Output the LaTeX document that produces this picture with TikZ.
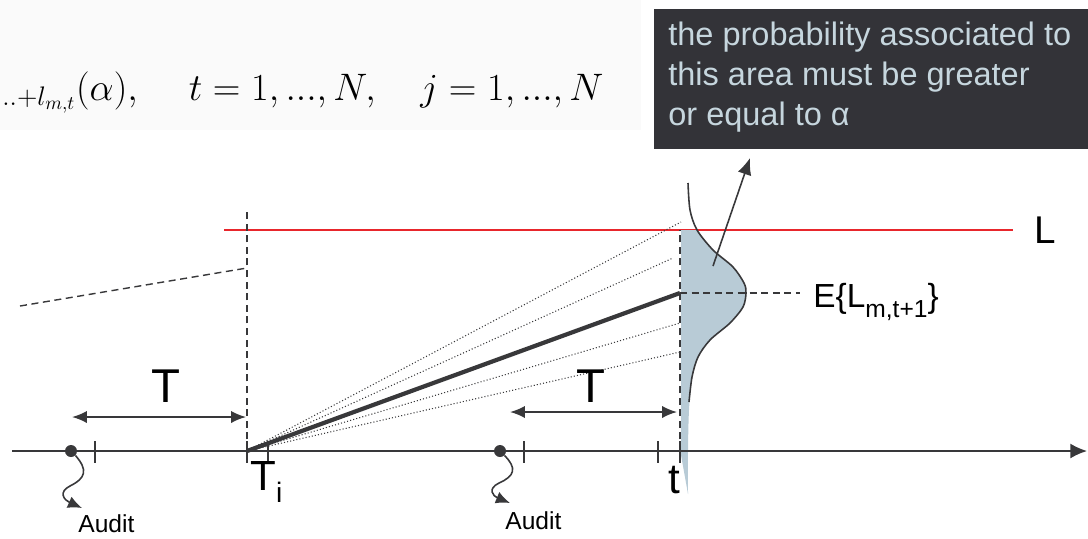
\RequirePackage{fix-cm}
\documentclass[tikz,border=0pt]{standalone}
\usepackage{fontspec}
\setmainfont{Liberation Sans}
\usetikzlibrary{arrows.meta}
\definecolor{ink}{HTML}{38383A}
\definecolor{redl}{HTML}{E8262C}
\definecolor{shadec}{HTML}{B8CBD6}
\definecolor{boxbg}{HTML}{333338}
\definecolor{boxtxt}{HTML}{C6D6DE}
\definecolor{fbg}{HTML}{FAFAFA}
\newcommand\setfs[2]{\fontsize{#1}{#2}\selectfont}
\tikzset{
  axisline/.style={draw=ink, line width=0.9pt, -{Latex[length=9.5pt,width=8.5pt]}},
  tickline/.style={draw=ink, line width=0.9pt},
  guide/.style={draw=ink, line width=0.8pt, dash pattern=on 4pt off 2.6pt},
  fan/.style={draw=ink, line width=0.6pt, dash pattern=on 0.6pt off 1.2pt},
  dimarrow/.style={draw=ink, line width=1pt, {Latex[length=8.5pt,width=7pt]}-{Latex[length=8.5pt,width=7pt]}},
  ptr/.style={draw=ink, line width=0.9pt, -{Latex[length=9.5pt,width=8pt]}},
  wavy/.style={draw=ink, line width=0.9pt, -{Latex[length=8pt,width=7pt]}},
  lbl/.style={inner sep=0pt, text=black},
  dotnode/.style={circle, fill=ink, inner sep=0pt, minimum size=0.24cm},
}
\begin{document}
\begin{tikzpicture}[x=0.02cm,y=-0.02cm]
\useasboundingbox (0,0) rectangle (1088,538);
% formula strip
\fill[fbg] (0,0) rectangle (641,130);
\node[lbl, anchor=base east] (formula) at (604,100)
  {\setfs{21.8}{26}$\vphantom{L}_{...+l_{m,t}}(\alpha),\quad\, t=1,...,N,\quad j=1,...,N$};
% dark box
\node[fill=boxbg, anchor=north west, minimum width=8.68cm, minimum height=2.8cm, inner sep=0pt] (box) at (654,9) {};
\node[lbl, anchor=north west, text=boxtxt, align=left, font={\setfs{18.5}{22.7}}] (boxtext) at (668,22)
  {the probability associated to\\this area must be greater\\or equal to α};
% limit line
\coordinate (r0) at (224,230);
\coordinate (r1) at (1013,230);
\draw[redl, line width=1.1pt] (r0) -- (r1);
\node[lbl, anchor=base west] (Llab) at (1034,243) {\setfs{22}{26}L};
% distribution
\fill[shadec] (681,230) -- plot[smooth] coordinates {(697,230) (713,250) (733,267) (744,283) (746,293) (743,307) (730,323) (710,340) (698,357) (692,377) (689,410) (688,450) (688,494)} -- (681,455) -- cycle;
\draw[ink, line width=0.9pt] plot[smooth] coordinates {(688,183) (690,210) (697,230) (713,250) (733,267) (744,283) (746,293) (743,307) (730,323) (710,340) (698,357) (692,377) (689,402)};
\coordinate (pstart) at (713,266);
\coordinate (pend) at (750,158);
\draw[ptr] (pstart) -- (pend);
% key points
\coordinate (Ti) at (247,451);
\coordinate (tt) at (680,451);
\coordinate (Tiup) at (247,212);
\coordinate (ttup) at (680,230);
\coordinate (mean) at (680,293);
\coordinate (meanE) at (800,293);
\coordinate (old0) at (20,306);
\coordinate (old1) at (247,268);
% guides
\draw[guide] (Ti) -- (Tiup);
\draw[guide] (tt) -- (ttup);
\draw[guide] (old0) -- (old1);
\draw[guide] (mean) -- (meanE);
\node[lbl, anchor=base west] (Elab) at (813,307) {\setfs{19}{22}E\{L\raisebox{-6pt}{\setfs{14}{16}m,t+1}\}};
% fan of trajectories
\coordinate (f1) at (681,222);
\coordinate (f2) at (673,258);
\coordinate (f3) at (680,323);
\coordinate (f4) at (680,352);
\foreach \f in {f1,f2,f3,f4} \draw[fan] (Ti) -- (\f);
\draw[ink, line width=2.4pt] (Ti) -- (mean);
% axis
\coordinate (ax0) at (12,451);
\coordinate (ax1) at (1087,451);
\draw[axisline] (ax0) -- (ax1);
\foreach \x/\n in {95/k1,247/k2,268/k3,524/k4,658/k5,680/k6} {
  \coordinate (\n a) at (\x,441);
  \coordinate (\n b) at (\x,463);
  \draw[tickline] (\n a) -- (\n b);
}
% audits
\node[dotnode] (a1) at (71,451) {};
\node[dotnode] (a2) at (500,451) {};
\coordinate (a1tip) at (82,508);
\coordinate (a2tip) at (510,503);
\draw[wavy] (a1.south east) .. controls (88,470) and (86,478) .. (70,486) .. controls (58,492) and (64,500) .. (a1tip);
\draw[wavy] (a2.south east) .. controls (517,468) and (515,476) .. (499,483) .. controls (487,489) and (493,496) .. (a2tip);
\node[lbl, anchor=base west] (aud1) at (78,532) {\setfs{14}{16}Audit};
\node[lbl, anchor=base west] (aud2) at (505,529) {\setfs{14}{16}Audit};
% T arrows
\coordinate (d1a) at (72,417);
\coordinate (d1b) at (246,417);
\coordinate (d2a) at (510,412);
\coordinate (d2b) at (677,412);
\draw[dimarrow] (d1a) -- (d1b);
\draw[dimarrow] (d2a) -- (d2b);
\node[lbl, anchor=base] (T1) at (166,402) {\setfs{27}{30}T};
\node[lbl, anchor=base] (T2) at (591,402) {\setfs{27}{30}T};
% axis labels
\node[lbl, anchor=base west] (Tilab) at (250,490) {\setfs{24}{28}T\raisebox{-7pt}{\setfs{16}{18}i}};
\node[lbl, anchor=base west] (tlab) at (668,493) {\setfs{24}{28}t};
\end{tikzpicture}
\end{document}
